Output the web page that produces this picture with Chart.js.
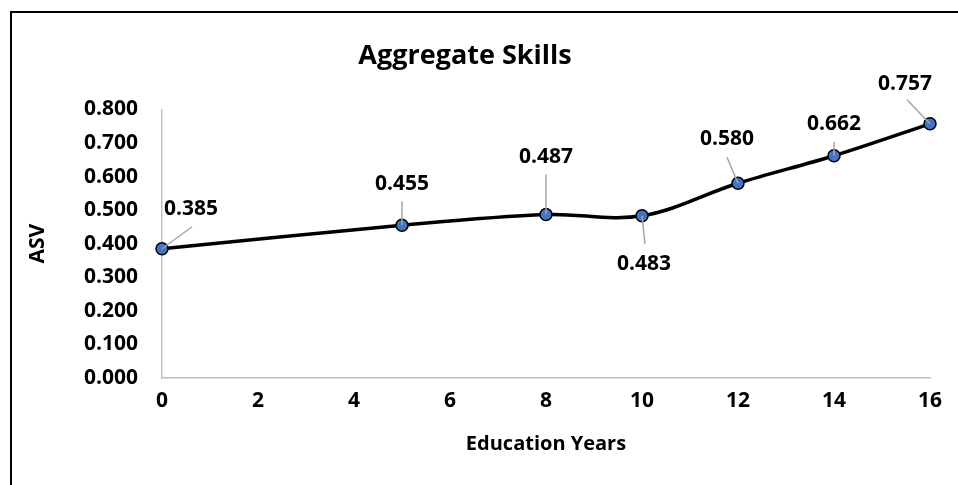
<!DOCTYPE html>
<html>
<head>
<meta charset="utf-8">
<title>Aggregate Skills</title>
<script src="https://cdn.jsdelivr.net/npm/chart.js@4.4.1/dist/chart.umd.min.js"></script>
<style>
  html, body { margin: 0; padding: 0; background: #fff; overflow: hidden; }
  #frame {
    position: absolute; left: 10px; top: 11px;
    width: 1000px; height: 600px;
    border: 2px solid #000; box-sizing: border-box;
  }
  #chart { position: absolute; left: 0; top: 0; }
</style>
</head>
<body>
<div id="frame"></div>
<canvas id="chart" width="958" height="485"></canvas>
<script>
// education years and aggregate skill values
const years = [0, 5, 8, 10, 12, 14, 16];
const asv = [0.385, 0.455, 0.487, 0.483, 0.580, 0.662, 0.757];

// where each value label sits relative to its point, and where its leader starts
const labelOffsets = [[29, -40], [0, -41], [0, -57], [2, 48], [-11, -44], [0, -32], [-25, -40]];
const leaderStarts = [[30, -22], [0, -24], [0, -40], [3, 28], [-11, -26], [0, -14], [-23, -24]];

const FONT = '"Open Sans"';
const labelFont = { family: FONT, size: 21, weight: 'bold' };

const valueLabels = {
  id: 'valueLabels',
  afterDatasetsDraw(chart) {
    const { ctx } = chart;
    const pts = chart.getDatasetMeta(0).data;
    ctx.save();
    pts.forEach((p, i) => {
      const [lx, ly] = leaderStarts[i];
      ctx.strokeStyle = '#A6A6A6';
      ctx.lineWidth = 1.5;
      ctx.beginPath();
      ctx.moveTo(p.x + lx, p.y + ly);
      ctx.lineTo(p.x, p.y);
      ctx.stroke();
    });
    ctx.font = 'bold ' + labelFont.size + 'px ' + FONT;
    ctx.fillStyle = '#000';
    ctx.textAlign = 'center';
    ctx.textBaseline = 'middle';
    pts.forEach((p, i) => {
      const [dx, dy] = labelOffsets[i];
      ctx.fillText(asv[i].toFixed(3), p.x + dx, p.y + dy);
    });
    ctx.restore();
  }
};

new Chart(document.getElementById('chart'), {
  type: 'line',
  data: {
    datasets: [{
      data: years.map((x, i) => ({ x: x, y: asv[i] })),
      borderColor: '#000',
      borderWidth: 3.5,
      tension: 0.35,
      pointRadius: 6,
      pointBackgroundColor: '#4472C4',
      pointBorderColor: '#000',
      pointBorderWidth: 1.5,
      clip: false
    }]
  },
  options: {
    responsive: false,
    devicePixelRatio: 1,
    animation: false,
    layout: { padding: { left: 0, right: 28, top: 0, bottom: 0 } },
    plugins: {
      legend: { display: false },
      tooltip: { enabled: false },
      title: {
        display: true,
        text: 'Aggregate Skills',
        color: '#000',
        font: { family: FONT, size: 27, weight: 'bold' },
        padding: { top: 40, bottom: 37 }
      }
    },
    scales: {
      x: {
        type: 'linear',
        min: 0,
        max: 16,
        afterFit(scale) { scale.height = 107; },
        grid: { display: false, drawTicks: false },
        border: { display: true, color: '#BFBFBF', width: 1.5 },
        ticks: { stepSize: 2, color: '#000', font: labelFont, padding: 10 },
        title: {
          display: true,
          text: 'Education Years',
          color: '#000',
          font: { family: FONT, size: 20, weight: 'bold' },
          padding: { bottom: 29 }
        }
      },
      y: {
        min: 0,
        max: 0.8,
        afterFit(scale) { scale.width = 162; },
        grid: { display: false, drawTicks: false },
        border: { display: true, color: '#BFBFBF', width: 1.5 },
        ticks: {
          stepSize: 0.1,
          color: '#000',
          font: labelFont,
          padding: 24,
          callback: v => v.toFixed(3)
        },
        title: {
          display: true,
          text: 'ASV',
          color: '#000',
          font: { family: FONT, size: 21, weight: 'bold' },
          padding: { top: 25 }
        }
      }
    }
  },
  plugins: [valueLabels]
});
</script>
</body>
</html>
